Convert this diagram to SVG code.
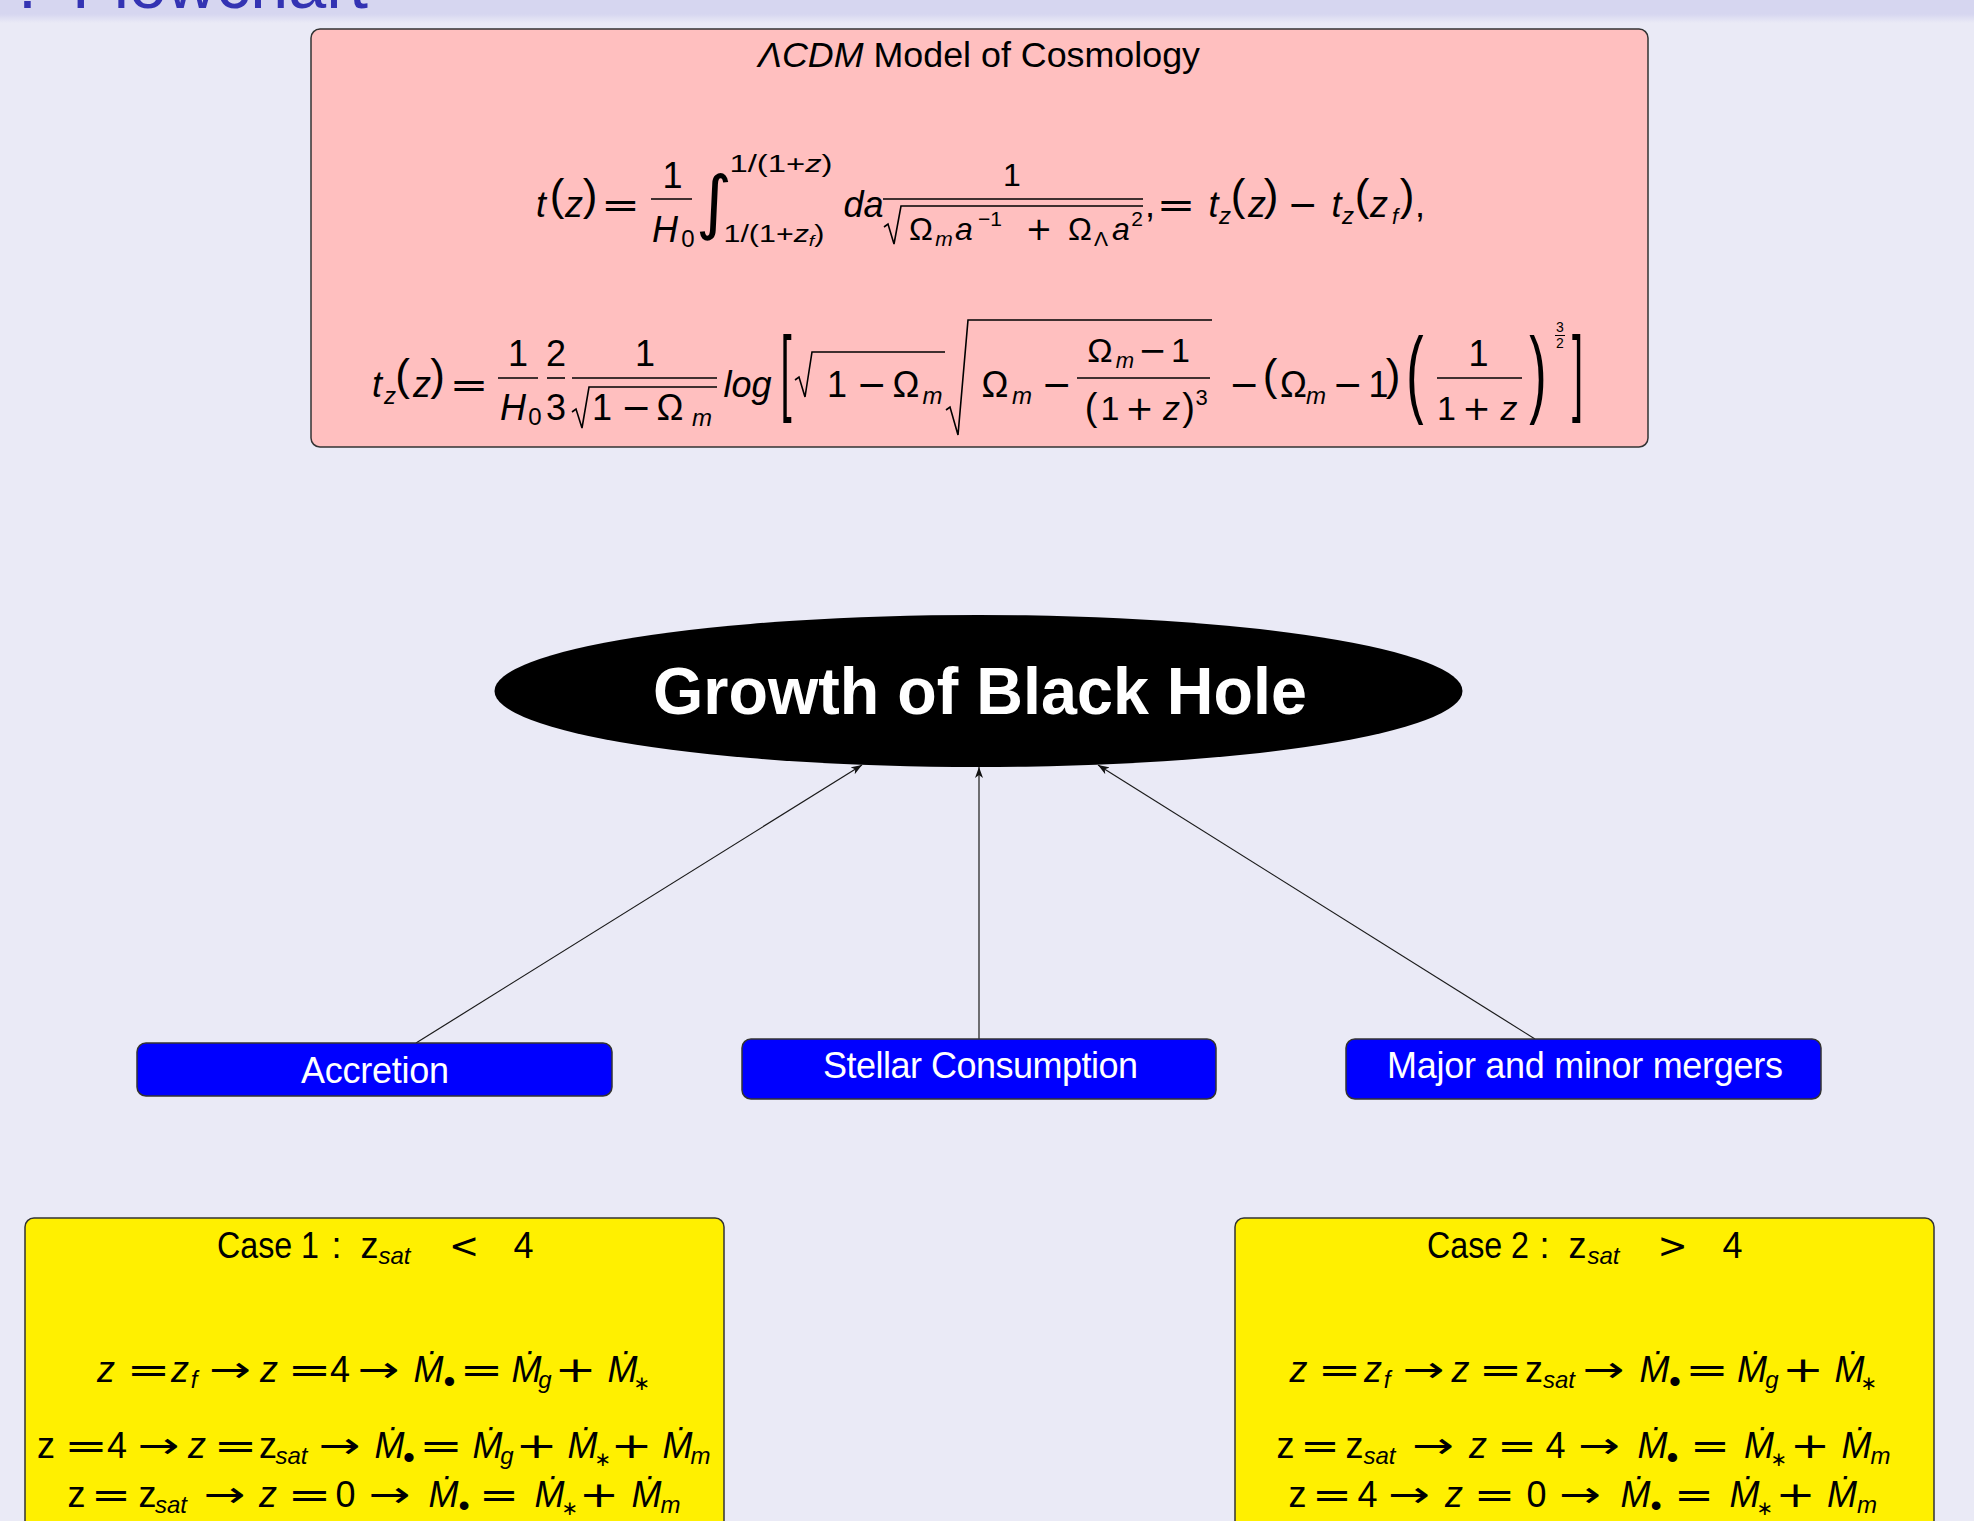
<svg xmlns="http://www.w3.org/2000/svg" width="1974" height="1521" viewBox="0 0 1974 1521">
<defs>
<linearGradient id="hdr" x1="0" y1="0" x2="0" y2="1">
<stop offset="0" stop-color="#d6d6f0"/>
<stop offset="1" stop-color="#eaeaf6"/>
</linearGradient>
<marker id="arr" markerWidth="12" markerHeight="8" refX="11" refY="4" orient="auto" markerUnits="userSpaceOnUse">
<path d="M0,0 L11,4 L0,8 L3,4 Z" fill="#111"/>
</marker>
<style>
text{font-family:"Liberation Sans","DejaVu Sans",sans-serif;fill:#000}
.i{font-style:italic}
.o{font-family:"DejaVu Sans","Liberation Sans",sans-serif}
.math text{text-anchor:middle}
.box{stroke:#333;stroke-width:1.5}
.bar{stroke:#000;stroke-width:1.6}
.rad{stroke:#000;stroke-width:1.6;fill:none}
.blue text{fill:#fff;font-size:36px;text-anchor:middle}
.conn line{stroke:#1a1a1a;stroke-width:1.2;marker-end:url(#arr)}
</style>
</defs>
<rect x="0" y="0" width="1974" height="1521" fill="#eaeaf6"/>
<rect x="0" y="0" width="1974" height="14" fill="#d6d6f0"/>
<rect x="0" y="14" width="1974" height="9" fill="url(#hdr)"/>
<g id="header">
<text x="18" y="8" font-size="68" style="fill:#3333b3">:</text>
<text x="72" y="8" font-size="68" textLength="296" lengthAdjust="spacingAndGlyphs" style="fill:#3333b3">Flowchart</text>
</g>

<g id="cosmology">
<rect class="box" x="311" y="29" width="1337" height="418" rx="9" fill="#ffbfbf"/>
<text x="979" y="67" font-size="35" text-anchor="middle" textLength="442" lengthAdjust="spacingAndGlyphs"><tspan class="i">ΛCDM</tspan> Model of Cosmology</text>
<g class="math" font-size="36">
<text x="541" y="217" class="i">t</text>
<text x="557" y="210" font-size="44">(</text>
<text x="574" y="217" class="i">z</text>
<text x="590" y="210" font-size="44">)</text>
<text x="620.5" y="217" class="o" textLength="39" lengthAdjust="spacingAndGlyphs">=</text>
<line class="bar" x1="651" y1="199" x2="692" y2="199"/>
<text x="672.5" y="188">1</text>
<text x="665" y="242" class="i">H</text>
<text x="688" y="247" font-size="24">0</text>
<text x="714" y="226" font-size="70" class="o">∫</text>
<text x="781" y="172" font-size="23" textLength="103" lengthAdjust="spacingAndGlyphs">1/(1+<tspan class="i">z</tspan>)</text>
<text x="774" y="242" font-size="23" textLength="101" lengthAdjust="spacingAndGlyphs">1/(1+<tspan class="i">z</tspan><tspan class="i" font-size="15" dy="4">f</tspan><tspan dy="-4">)</tspan></text>
<text x="863.5" y="217" class="i">da</text>
<line class="bar" x1="883" y1="199" x2="1143" y2="199"/>
<text x="1012" y="186" font-size="32">1</text>
<path class="rad" d="M884,227 L888,224 L894,244 L901,206 L1143,206"/>
<text x="921" y="240" font-size="32">Ω</text>
<text x="944" y="246" font-size="21" class="i">m</text>
<text x="964" y="240" font-size="32" class="i">a</text>
<text x="990" y="226" font-size="21">−1</text>
<text x="1039" y="240" font-size="32" class="o">+</text>
<text x="1080" y="240" font-size="32">Ω</text>
<text x="1101" y="246" font-size="21">Λ</text>
<text x="1121" y="240" font-size="32" class="i">a</text>
<text x="1137" y="226" font-size="21">2</text>
<text x="1150" y="217">,</text>
<text x="1176" y="217" class="o" textLength="39" lengthAdjust="spacingAndGlyphs">=</text>
<text x="1213.5" y="217" class="i">t</text>
<text x="1225" y="224" font-size="24" class="i">z</text>
<text x="1238" y="210" font-size="44">(</text>
<text x="1257" y="217" class="i">z</text>
<text x="1271" y="210" font-size="44">)</text>
<text x="1302.5" y="217" class="o">−</text>
<text x="1336.5" y="217" class="i">t</text>
<text x="1348" y="224" font-size="24" class="i">z</text>
<text x="1362" y="210" font-size="44">(</text>
<text x="1379" y="217" class="i">z</text>
<text x="1395" y="224" font-size="22" class="i">f</text>
<text x="1407" y="210" font-size="44">)</text>
<text x="1420" y="217">,</text>

<text x="377" y="397" class="i">t</text>
<text x="390" y="404" font-size="24" class="i">z</text>
<text x="402.5" y="390" font-size="44">(</text>
<text x="422" y="397" class="i">z</text>
<text x="437.5" y="390" font-size="44">)</text>
<text x="469" y="397" class="o" textLength="39" lengthAdjust="spacingAndGlyphs">=</text>
<line class="bar" x1="498" y1="378" x2="538" y2="378"/>
<text x="518" y="366">1</text>
<text x="513" y="420" class="i">H</text>
<text x="535" y="425" font-size="24">0</text>
<line class="bar" x1="547" y1="378" x2="565" y2="378"/>
<text x="556" y="366">2</text>
<text x="556" y="420">3</text>
<line class="bar" x1="572" y1="378" x2="717" y2="378"/>
<text x="645" y="366">1</text>
<path class="rad" d="M572,412 L576,409 L582,428 L589,387 L717,387"/>
<text x="602" y="420">1</text>
<text x="636" y="420" class="o">−</text>
<text x="670" y="420">Ω</text>
<text x="702" y="426" font-size="24" class="i">m</text>
<text x="747.5" y="397" class="i">log</text>
<text transform="translate(786,403) scale(1,2.34)" x="0" y="0" font-size="40">[</text>
<path class="rad" d="M795,380 L799,377 L805,397 L812,352 L945,352"/>
<text x="837" y="397">1</text>
<text x="871.5" y="397" class="o">−</text>
<text x="906" y="397">Ω</text>
<text x="932.5" y="404" font-size="24" class="i">m</text>
<path class="rad" d="M946,410 L950,407 L958,435 L968,320 L1212,320"/>
<text x="995" y="397">Ω</text>
<text x="1022" y="404" font-size="24" class="i">m</text>
<text x="1056.5" y="397" class="o">−</text>
<line class="bar" x1="1077" y1="378" x2="1210" y2="378"/>
<text x="1100" y="362" font-size="34">Ω</text>
<text x="1125" y="368" font-size="22" class="i">m</text>
<text x="1152.5" y="362" font-size="34" class="o">−</text>
<text x="1180.5" y="362" font-size="34">1</text>
<text x="1091" y="420" font-size="38">(</text>
<text x="1110" y="420" font-size="34">1</text>
<text x="1139.5" y="420" font-size="34" class="o">+</text>
<text x="1171.5" y="420" font-size="34" class="i">z</text>
<text x="1188.5" y="420" font-size="38">)</text>
<text x="1201.5" y="405" font-size="22">3</text>
<text x="1244" y="397" class="o">−</text>
<text x="1270" y="390" font-size="44">(</text>
<text x="1293.5" y="397">Ω</text>
<text x="1316" y="404" font-size="24" class="i">m</text>
<text x="1347.5" y="397" class="o">−</text>
<text x="1378.5" y="397">1</text>
<text x="1393" y="390" font-size="44">)</text>
<text transform="translate(1415,404.7) scale(1.3,2.39)" x="0" y="0" font-size="40">(</text>
<line class="bar" x1="1437" y1="378" x2="1522" y2="378"/>
<text x="1478.5" y="366">1</text>
<text x="1446.5" y="420" font-size="34">1</text>
<text x="1476.5" y="420" font-size="34" class="o">+</text>
<text x="1509" y="420" font-size="34" class="i">z</text>
<text transform="translate(1538,404.7) scale(1.3,2.39)" x="0" y="0" font-size="40">)</text>
<text x="1560" y="332" font-size="14">3</text>
<line x1="1555" y1="335.5" x2="1565" y2="335.5" stroke="#000" stroke-width="1"/>
<text x="1560" y="348" font-size="14">2</text>
<text transform="translate(1577.5,403) scale(1,2.34)" x="0" y="0" font-size="40">]</text>
</g>
</g>

<g id="growth">
<ellipse cx="978.5" cy="691" rx="484" ry="76" fill="#000"/>
<text x="980" y="714" font-size="66" font-weight="bold" text-anchor="middle" textLength="654" lengthAdjust="spacingAndGlyphs" style="fill:#fff">Growth of Black Hole</text>
</g>

<g id="connectors" class="conn">
<line x1="416" y1="1043" x2="862" y2="765"/>
<line x1="979" y1="1039" x2="979" y2="767"/>
<line x1="1535" y1="1039" x2="1098" y2="765"/>
</g>

<g id="accretion" class="blue">
<rect class="box" x="137" y="1043" width="475" height="53" rx="9" fill="#0000ff"/>
<text x="375" y="1083" textLength="148">Accretion</text>
</g>
<g id="stellar" class="blue">
<rect class="box" x="742" y="1039" width="474" height="60" rx="9" fill="#0000ff"/>
<text x="980.5" y="1078" textLength="315">Stellar Consumption</text>
</g>
<g id="mergers" class="blue">
<rect class="box" x="1346" y="1039" width="475" height="60" rx="9" fill="#0000ff"/>
<text x="1585" y="1078" textLength="396">Major and minor mergers</text>
</g>

<g id="case1">
<rect class="box" x="25" y="1218" width="699" height="340" rx="9" fill="#fff000"/>
<g class="math" font-size="36">
<text x="268" y="1258" textLength="102" lengthAdjust="spacingAndGlyphs">Case 1</text>
<text x="336.5" y="1258">:</text>
<text x="369.5" y="1258">z</text>
<text x="394.5" y="1264" font-size="24" class="i">sat</text>
<text x="464" y="1258" class="o">&lt;</text>
<text x="523.5" y="1258">4</text>

<text x="106" y="1382" class="i">z</text>
<text x="148.5" y="1382" class="o" textLength="44" lengthAdjust="spacingAndGlyphs">=</text>
<text x="180" y="1382" class="i">z</text>
<text x="194" y="1388" font-size="24" class="i">f</text>
<text x="230" y="1382" class="o" textLength="42" lengthAdjust="spacingAndGlyphs">→</text>
<text x="269" y="1382" class="i">z</text>
<text x="309.5" y="1382" class="o" textLength="44" lengthAdjust="spacingAndGlyphs">=</text>
<text x="340" y="1382">4</text>
<text x="378.5" y="1382" class="o" textLength="42" lengthAdjust="spacingAndGlyphs">→</text>
<text x="428.5" y="1382" class="i">Ṁ</text>
<text x="449.5" y="1393" font-size="34">•</text>
<text x="481.5" y="1382" class="o" textLength="44" lengthAdjust="spacingAndGlyphs">=</text>
<text x="526.5" y="1382" class="i">Ṁ</text>
<text x="545" y="1388" font-size="24" class="i">g</text>
<text x="575.5" y="1382" class="o" textLength="42" lengthAdjust="spacingAndGlyphs">+</text>
<text x="622.5" y="1382" class="i">Ṁ</text>
<text x="642" y="1390" font-size="20" class="o">∗</text>

<text x="46" y="1458">z</text>
<text x="86" y="1458" class="o" textLength="44" lengthAdjust="spacingAndGlyphs">=</text>
<text x="117" y="1458">4</text>
<text x="158.5" y="1458" class="o" textLength="42" lengthAdjust="spacingAndGlyphs">→</text>
<text x="197" y="1458" class="i">z</text>
<text x="235.5" y="1458" class="o" textLength="44" lengthAdjust="spacingAndGlyphs">=</text>
<text x="268" y="1458">z</text>
<text x="291.5" y="1464" font-size="24" class="i">sat</text>
<text x="339.5" y="1458" class="o" textLength="42" lengthAdjust="spacingAndGlyphs">→</text>
<text x="389.5" y="1458" class="i">Ṁ</text>
<text x="409" y="1469" font-size="34">•</text>
<text x="441" y="1458" class="o" textLength="44" lengthAdjust="spacingAndGlyphs">=</text>
<text x="487.5" y="1458" class="i">Ṁ</text>
<text x="507" y="1464" font-size="24" class="i">g</text>
<text x="536.5" y="1458" class="o" textLength="42" lengthAdjust="spacingAndGlyphs">+</text>
<text x="582.5" y="1458" class="i">Ṁ</text>
<text x="603" y="1466" font-size="20" class="o">∗</text>
<text x="631.5" y="1458" class="o" textLength="42" lengthAdjust="spacingAndGlyphs">+</text>
<text x="677.5" y="1458" class="i">Ṁ</text>
<text x="700.5" y="1464" font-size="24" class="i">m</text>

<text x="76.5" y="1507">z</text>
<text x="111" y="1507" class="o" textLength="40" lengthAdjust="spacingAndGlyphs">=</text>
<text x="147.5" y="1507">z</text>
<text x="171" y="1513" font-size="24" class="i">sat</text>
<text x="224.5" y="1507" class="o" textLength="42" lengthAdjust="spacingAndGlyphs">→</text>
<text x="268" y="1507" class="i">z</text>
<text x="309.5" y="1507" class="o" textLength="44" lengthAdjust="spacingAndGlyphs">=</text>
<text x="345.5" y="1507">0</text>
<text x="389.5" y="1507" class="o" textLength="42" lengthAdjust="spacingAndGlyphs">→</text>
<text x="443.5" y="1507" class="i">Ṁ</text>
<text x="464" y="1516" font-size="32">•</text>
<text x="499" y="1507" class="o" textLength="40" lengthAdjust="spacingAndGlyphs">=</text>
<text x="549.5" y="1507" class="i">Ṁ</text>
<text x="570" y="1515" font-size="20" class="o">∗</text>
<text x="599" y="1507" class="o" textLength="40" lengthAdjust="spacingAndGlyphs">+</text>
<text x="646.5" y="1507" class="i">Ṁ</text>
<text x="670.5" y="1513" font-size="24" class="i">m</text>
</g>
</g>

<g id="case2">
<rect class="box" x="1235" y="1218" width="699" height="340" rx="9" fill="#fff000"/>
<g class="math" font-size="36">
<text x="1478" y="1258" textLength="102" lengthAdjust="spacingAndGlyphs">Case 2</text>
<text x="1544.5" y="1258">:</text>
<text x="1577.5" y="1258">z</text>
<text x="1603.5" y="1264" font-size="24" class="i">sat</text>
<text x="1672.5" y="1258" class="o">&gt;</text>
<text x="1732.5" y="1258">4</text>

<text x="1298.5" y="1382" class="i">z</text>
<text x="1339.5" y="1382" class="o" textLength="44" lengthAdjust="spacingAndGlyphs">=</text>
<text x="1373" y="1382" class="i">z</text>
<text x="1387" y="1388" font-size="24" class="i">f</text>
<text x="1423.5" y="1382" class="o" textLength="42" lengthAdjust="spacingAndGlyphs">→</text>
<text x="1460.5" y="1382" class="i">z</text>
<text x="1500.5" y="1382" class="o" textLength="44" lengthAdjust="spacingAndGlyphs">=</text>
<text x="1534" y="1382">z</text>
<text x="1559" y="1388" font-size="24" class="i">sat</text>
<text x="1603.5" y="1382" class="o" textLength="42" lengthAdjust="spacingAndGlyphs">→</text>
<text x="1654.5" y="1382" class="i">Ṁ</text>
<text x="1675" y="1393" font-size="34">•</text>
<text x="1707" y="1382" class="o" textLength="44" lengthAdjust="spacingAndGlyphs">=</text>
<text x="1752" y="1382" class="i">Ṁ</text>
<text x="1772" y="1388" font-size="24" class="i">g</text>
<text x="1803" y="1382" class="o" textLength="42" lengthAdjust="spacingAndGlyphs">+</text>
<text x="1849.5" y="1382" class="i">Ṁ</text>
<text x="1869" y="1390" font-size="20" class="o">∗</text>

<text x="1285.5" y="1458">z</text>
<text x="1320" y="1458" class="o" textLength="40" lengthAdjust="spacingAndGlyphs">=</text>
<text x="1354.5" y="1458">z</text>
<text x="1379.5" y="1464" font-size="24" class="i">sat</text>
<text x="1433" y="1458" class="o" textLength="42" lengthAdjust="spacingAndGlyphs">→</text>
<text x="1478" y="1458" class="i">z</text>
<text x="1517" y="1458" class="o" textLength="40" lengthAdjust="spacingAndGlyphs">=</text>
<text x="1555.5" y="1458">4</text>
<text x="1599" y="1458" class="o" textLength="42" lengthAdjust="spacingAndGlyphs">→</text>
<text x="1652.5" y="1458" class="i">Ṁ</text>
<text x="1672.5" y="1469" font-size="34">•</text>
<text x="1710" y="1458" class="o" textLength="40" lengthAdjust="spacingAndGlyphs">=</text>
<text x="1759" y="1458" class="i">Ṁ</text>
<text x="1779" y="1466" font-size="20" class="o">∗</text>
<text x="1810" y="1458" class="o" textLength="40" lengthAdjust="spacingAndGlyphs">+</text>
<text x="1856.5" y="1458" class="i">Ṁ</text>
<text x="1880.5" y="1464" font-size="24" class="i">m</text>

<text x="1297.5" y="1507">z</text>
<text x="1332" y="1507" class="o" textLength="40" lengthAdjust="spacingAndGlyphs">=</text>
<text x="1367.5" y="1507">4</text>
<text x="1409" y="1507" class="o" textLength="42" lengthAdjust="spacingAndGlyphs">→</text>
<text x="1454" y="1507" class="i">z</text>
<text x="1494.5" y="1507" class="o" textLength="42" lengthAdjust="spacingAndGlyphs">=</text>
<text x="1536.5" y="1507">0</text>
<text x="1580" y="1507" class="o" textLength="42" lengthAdjust="spacingAndGlyphs">→</text>
<text x="1635.5" y="1507" class="i">Ṁ</text>
<text x="1656" y="1516" font-size="32">•</text>
<text x="1694" y="1507" class="o" textLength="40" lengthAdjust="spacingAndGlyphs">=</text>
<text x="1744.5" y="1507" class="i">Ṁ</text>
<text x="1765" y="1515" font-size="20" class="o">∗</text>
<text x="1795.5" y="1507" class="o" textLength="40" lengthAdjust="spacingAndGlyphs">+</text>
<text x="1842" y="1507" class="i">Ṁ</text>
<text x="1867" y="1513" font-size="24" class="i">m</text>
</g>
</g>
</svg>
